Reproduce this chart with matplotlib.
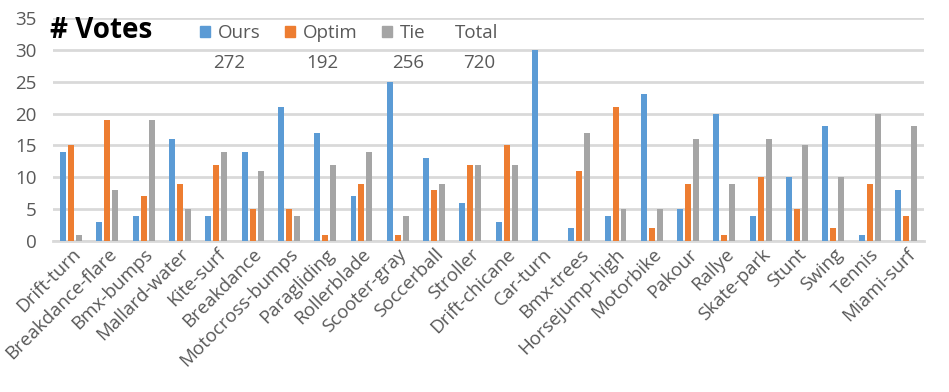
import numpy as np
import matplotlib.pyplot as plt
from matplotlib.patches import Patch

categories = ["Drift-turn", "Breakdance-flare", "Bmx-bumps", "Mallard-water", "Kite-surf",
              "Breakdance", "Motocross-bumps", "Paragliding", "Rollerblade", "Scooter-gray",
              "Soccerball", "Stroller", "Drift-chicane", "Car-turn", "Bmx-trees",
              "Horsejump-high", "Motorbike", "Pakour", "Rallye", "Skate-park",
              "Stunt", "Swing", "Tennis", "Miami-surf"]
ours = [14, 3, 4, 16, 4, 14, 21, 17, 7, 25, 13, 6, 3, 30, 2, 4, 23, 5, 20, 4, 10, 18, 1, 8]
optim = [15, 19, 7, 9, 12, 5, 5, 1, 9, 1, 8, 12, 15, 0, 11, 21, 2, 9, 1, 10, 5, 2, 9, 4]
tie = [1, 8, 19, 5, 14, 11, 4, 12, 14, 4, 9, 12, 12, 0, 17, 5, 5, 16, 9, 16, 15, 10, 20, 18]
series = ['Ours', 'Optim', 'Tie']
colors = ['#5B9BD5', '#ED7D31', '#A5A5A5']

plt.rcParams['font.family'] = ['Open Sans', 'DejaVu Sans']

fig = plt.figure(figsize=(9.49, 3.92), dpi=100)
ax = fig.add_axes([53 / 949, 1 - 241 / 392, 871 / 949, 223 / 392])

x = np.arange(len(categories))
w = 0.165
off = 0.22
for i, vals in enumerate([ours, optim, tie]):
    ax.bar(x + (i - 1) * off, vals, w, color=colors[i], zorder=3)

ax.set_xlim(-0.5, len(categories) - 0.5)
ax.set_ylim(0, 35)
ax.set_yticks(range(0, 36, 5))
ax.yaxis.grid(True, color='#D9D9D9', linewidth=2, zorder=0)
for s in ['top', 'right', 'left']:
    ax.spines[s].set_visible(False)
ax.spines['bottom'].set_color('#D9D9D9')
ax.spines['bottom'].set_linewidth(2)
ax.tick_params(axis='both', length=0, colors='#595959', labelsize=13.5)
ax.tick_params(axis='x', pad=3)
ax.tick_params(axis='y', pad=12)
ax.set_xticks(x)
ax.set_xticklabels(categories, rotation=45, ha='right', rotation_mode='anchor')

fig.text(50 / 949, 1 - 30 / 392, '# Votes', fontsize=20, fontweight='bold',
         color='black', va='center', ha='left')
handles = [Patch(color=c, label=s) for c, s in zip(colors, series)]
ax.legend(handles=handles, loc='center left', bbox_to_anchor=(130 / 871, 1 - 15 / 223),
          ncol=3, frameon=False, fontsize=13.5, handlelength=0.55, handleheight=0.55,
          handletextpad=0.4, columnspacing=1.3, labelcolor='#595959')
fig.text(455 / 949, 1 - 33 / 392, 'Total', fontsize=13.5, color='#595959', va='center')
totals = [sum(ours), sum(optim), sum(tie), sum(ours) + sum(optim) + sum(tie)]
for xp, t in zip([229, 322, 408, 479], totals):
    fig.text(xp / 949, 1 - 63 / 392, str(t), fontsize=13.5, color='#595959',
             va='center', ha='center')

fig.savefig('out.png', dpi=100)
